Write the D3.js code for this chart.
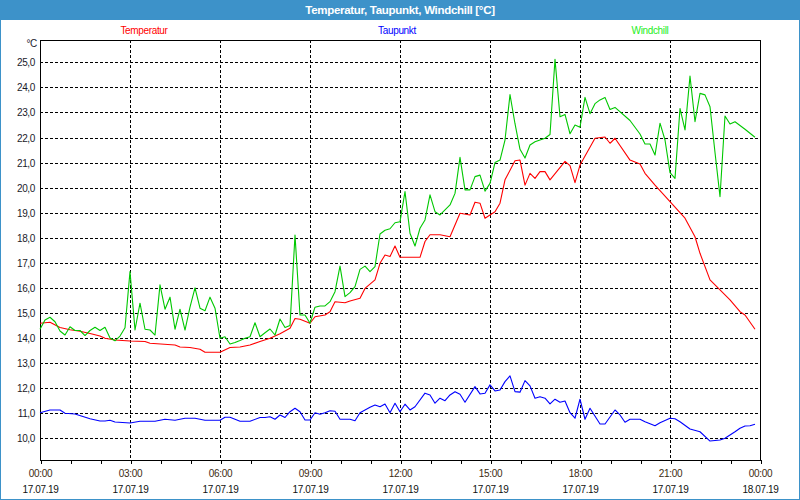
<!DOCTYPE html>
<html>
<head>
<meta charset="utf-8">
<script src="https://cdn.jsdelivr.net/npm/d3@7/dist/d3.min.js"></script>
<style>
  html, body { margin: 0; padding: 0; background: #ffffff; }
  svg { display: block; }
  text { font-family: "Liberation Sans", Arial, sans-serif; }
</style>
</head>
<body>
<svg id="chart" width="800" height="500"></svg>
<script>
// ---------- data (minutes since 00:00 on 17.07.19, value in °C) ----------
const title = "Temperatur, Taupunkt, Windchill [°C]";
const seriesNames = ["Temperatur", "Taupunkt", "Windchill"];

const tempMinutes = [0,20,40,60,80,100,120,130,150,180,210,220,270,280,300,320,330,360,380,400,420,440,460,480,500,510,520,540,550,570,580,590,610,620,640,650,670,680,690,700,710,720,760,770,780,800,820,840,860,870,880,890,910,920,930,950,960,970,980,990,1000,1010,1020,1050,1060,1070,1080,1110,1130,1140,1150,1180,1200,1210,1230,1260,1290,1310,1320,1340,1360,1380,1400,1410,1430];
const tempValues  = [14.59,14.63,14.42,14.33,14.27,14.18,14.08,13.99,13.92,13.88,13.86,13.79,13.72,13.64,13.62,13.55,13.43,13.43,13.62,13.64,13.72,13.86,13.99,14.17,14.39,14.78,14.75,14.59,14.85,14.92,15.05,15.45,15.41,15.48,15.59,15.98,16.32,16.98,17.31,17.25,17.67,17.22,17.22,17.85,18.12,18.12,18.04,18.98,18.91,19.42,19.38,18.78,19.04,19.38,20.31,21.07,21.1,20.1,20.57,20.37,20.64,20.64,20.31,21.05,20.88,20.2,20.9,21.97,22.02,21.77,21.97,21.1,20.94,20.57,20.1,19.44,18.78,18.04,17.38,16.32,15.92,15.52,15.05,14.92,14.35];

const dewMinutes = [0,20,40,50,70,100,120,130,140,150,180,200,230,250,270,290,310,330,360,370,380,400,420,440,450,460,470,480,490,500,510,520,530,540,550,560,570,580,590,600,620,630,640,660,670,680,690,700,710,720,730,740,750,770,780,790,800,810,820,830,840,850,870,880,890,900,910,920,930,940,950,960,970,980,990,1000,1010,1020,1030,1040,1050,1060,1070,1080,1090,1100,1120,1130,1150,1160,1170,1180,1200,1210,1230,1240,1260,1270,1280,1300,1320,1340,1360,1370,1390,1400,1410,1420,1430];
const dewValues  = [11.02,11.13,11.13,11.0,10.97,10.78,10.69,10.69,10.72,10.65,10.61,10.68,10.68,10.76,10.72,10.8,10.8,10.72,10.72,10.84,10.84,10.68,10.68,10.83,10.83,10.86,10.76,10.93,10.83,11.06,11.2,11.06,10.73,10.73,11.02,10.96,11.02,11.1,11.08,10.76,10.76,10.7,11.02,11.24,11.33,11.26,11.37,11.02,11.4,11.06,11.36,11.13,11.26,11.8,11.73,11.4,11.6,11.5,11.73,11.86,11.76,11.44,12.06,11.77,11.8,12.13,11.89,11.93,12.26,12.49,11.86,11.84,12.3,12.09,11.6,11.66,11.6,11.37,11.56,11.44,11.49,11.02,10.8,11.56,10.76,11.2,10.57,10.57,11.13,10.93,10.64,10.76,10.76,10.66,10.5,10.62,10.8,10.78,10.66,10.37,10.26,9.89,9.93,10.0,10.26,10.4,10.49,10.5,10.56];

const chillMinutes = [0,10,20,30,40,50,60,70,80,90,100,110,120,130,140,150,160,170,180,190,200,210,220,230,240,250,260,270,280,290,300,310,320,330,340,350,360,370,380,390,400,410,420,430,440,450,460,470,480,490,500,510,520,530,540,550,560,570,580,590,600,610,620,630,640,650,660,670,680,690,700,710,720,730,740,750,760,770,780,790,800,810,820,830,840,850,860,870,880,890,900,910,920,930,940,950,960,970,980,990,1000,1010,1020,1030,1040,1050,1060,1070,1080,1090,1100,1110,1120,1130,1140,1150,1180,1200,1210,1220,1230,1240,1250,1260,1270,1280,1290,1300,1310,1320,1330,1340,1350,1360,1370,1380,1390,1410,1430];
const chillValues  = [14.35,14.72,14.83,14.65,14.28,14.12,14.45,14.3,14.3,14.1,14.3,14.43,14.3,14.43,14.0,13.89,14.08,14.41,16.65,14.32,15.39,14.35,14.32,14.12,16.12,15.15,15.63,14.35,15.15,14.32,15.23,16.0,15.19,15.09,15.63,15.19,13.99,14.05,13.76,13.82,13.9,13.99,14.05,14.61,14.05,14.21,14.36,14.12,14.76,14.42,14.5,18.11,14.92,14.92,14.59,15.23,15.28,15.28,15.45,15.85,16.87,15.65,15.81,16.05,16.74,16.87,16.65,16.85,18.15,18.3,18.36,18.6,18.64,19.84,18.18,17.67,18.38,18.71,19.71,19.04,18.91,19.11,19.31,19.77,21.21,19.91,19.91,20.44,20.5,19.86,20.17,21.0,21.1,21.9,23.71,22.55,21.53,21.18,21.7,21.83,21.9,21.97,22.12,25.12,22.83,22.92,22.15,22.5,22.41,23.6,22.95,23.35,23.5,23.6,23.12,23.2,22.68,22.14,21.74,21.74,21.3,22.57,21.9,20.6,20.37,23.16,22.3,24.45,22.63,23.76,23.7,23.23,21.4,19.64,22.86,22.54,22.63,22.33,22.01];

const yTickValues = [10,11,12,13,14,15,16,17,18,19,20,21,22,23,24,25];
const xTickMinutes = [0,180,360,540,720,900,1080,1260,1440];
const xTimeLabels = ["00:00","03:00","06:00","09:00","12:00","15:00","18:00","21:00","00:00"];
const xDateLabels = ["17.07.19","17.07.19","17.07.19","17.07.19","17.07.19","17.07.19","17.07.19","17.07.19","18.07.19"];
const hourTickMinutes = d3.range(0, 1441, 60);

// ---------- layout ----------
const W = 800, H = 500;
const plot = { left: 40, top: 40, right: 760, bottom: 460 };
const colors = { temp: "#ff0000", dew: "#0000ff", chill: "#00c800", chillText: "#22ee22", frame: "#3d92c9" };

const svg = d3.select("#chart");

const x = d3.scaleLinear().domain([0, 1440]).range([plot.left, plot.right]);
const y = d3.scaleLinear().domain([9.134, 25.89]).range([plot.bottom, plot.top]);

// background
svg.append("rect").attr("x", 0).attr("y", 0).attr("width", W).attr("height", H).attr("fill", "#ffffff");

// title bar
svg.append("rect").attr("x", 0).attr("y", 0).attr("width", W).attr("height", 20).attr("fill", colors.frame);
svg.append("text").attr("x", 400).attr("y", 14).attr("text-anchor", "middle")
  .attr("fill", "#ffffff").attr("font-size", 11.5).attr("font-weight", "bold")
  .attr("letter-spacing", "-0.3px").text(title);

// outer border
svg.append("rect").attr("x", 0.5).attr("y", 0.5).attr("width", W - 1).attr("height", H - 1)
  .attr("fill", "none").attr("stroke", colors.frame).attr("stroke-width", 1);

// legend
const legendX = [144, 397, 650];
const legendColors = [colors.temp, colors.dew, colors.chillText];
seriesNames.forEach((n, i) => {
  svg.append("text").attr("x", legendX[i]).attr("y", 34).attr("text-anchor", "middle")
    .attr("fill", legendColors[i]).attr("font-size", 10).attr("letter-spacing", "-0.35px").text(n);
});

// grid
const grid = svg.append("g").attr("shape-rendering", "crispEdges");
grid.selectAll("line.h").data(yTickValues).enter().append("line")
  .attr("x1", plot.left).attr("x2", plot.right)
  .attr("y1", d => Math.round(y(d)) + 0.5).attr("y2", d => Math.round(y(d)) + 0.5)
  .attr("stroke", "#000").attr("stroke-dasharray", "3,2");
grid.selectAll("line.v").data(xTickMinutes.slice(1, -1)).enter().append("line")
  .attr("x1", d => Math.round(x(d)) + 0.5).attr("x2", d => Math.round(x(d)) + 0.5)
  .attr("y1", plot.top).attr("y2", plot.bottom)
  .attr("stroke", "#000").attr("stroke-dasharray", "3,2");

// y labels
svg.selectAll("text.ylab").data(yTickValues).enter().append("text")
  .attr("x", 35).attr("y", d => y(d) + 4).attr("text-anchor", "end")
  .attr("fill", "#1a1a2a").attr("font-size", 10).attr("letter-spacing", "-0.35px")
  .text(d => d3.format(".1f")(d).replace(".", ","));
svg.append("text").attr("x", 37).attr("y", 47).attr("text-anchor", "end")
  .attr("fill", "#1a1a2a").attr("font-size", 10).attr("letter-spacing", "-0.35px").text("°C");

// x axis ticks
const xAxis = d3.axisBottom(x).tickValues(hourTickMinutes).tickSize(4).tickFormat("");
const gx = svg.append("g").attr("transform", `translate(0.5,${plot.bottom})`).attr("shape-rendering", "crispEdges").call(xAxis);
gx.select(".domain").remove();
gx.selectAll(".tick line").attr("stroke", "#000");

// x labels
xTickMinutes.forEach((m, i) => {
  svg.append("text").attr("x", x(m) + 0.5).attr("y", 477).attr("text-anchor", "middle")
    .attr("fill", "#3a2a10").attr("font-size", 10).attr("letter-spacing", "-0.35px").text(xTimeLabels[i]);
  svg.append("text").attr("x", x(m) + 0.5).attr("y", 493).attr("text-anchor", "middle")
    .attr("fill", "#111").attr("font-size", 10).attr("letter-spacing", "-0.35px").text(xDateLabels[i]);
});

// plot frame
svg.append("rect").attr("x", plot.left + 0.5).attr("y", plot.top + 0.5)
  .attr("width", plot.right - plot.left).attr("height", plot.bottom - plot.top)
  .attr("fill", "none").attr("stroke", "#000").attr("shape-rendering", "crispEdges");

// lines
const line = d3.line().x(d => x(d[0])).y(d => y(d[1]));
function draw(mins, vals, color) {
  const pts = mins.map((m, i) => [m, vals[i]]);
  svg.append("path").datum(pts).attr("d", line)
    .attr("fill", "none").attr("stroke", color).attr("stroke-width", 1.1)
    .attr("stroke-linejoin", "round");
}
draw(dewMinutes, dewValues, colors.dew);
draw(tempMinutes, tempValues, colors.temp);
draw(chillMinutes, chillValues, colors.chill);
</script>
</body>
</html>
